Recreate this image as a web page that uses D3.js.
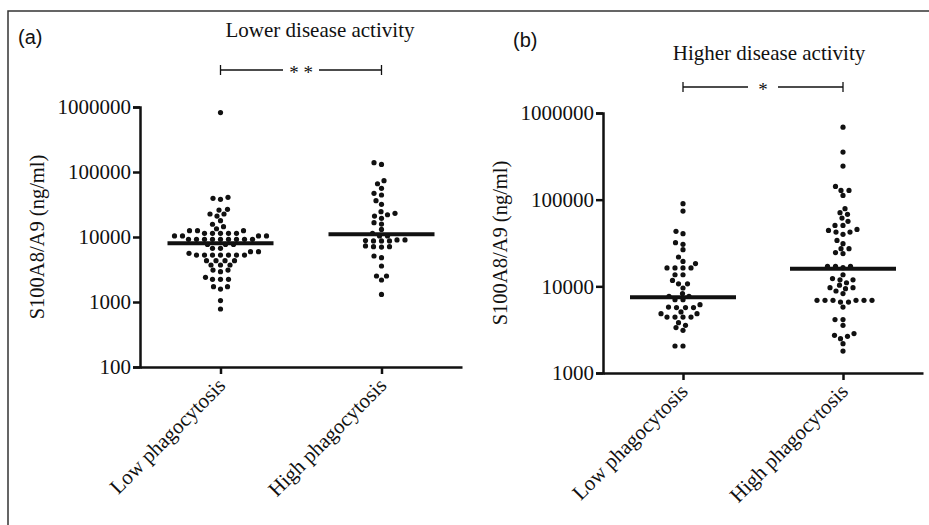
<!DOCTYPE html>
<html>
<head>
<meta charset="utf-8">
<script src="https://cdn.jsdelivr.net/npm/d3@7"></script>
<style>
  body { margin: 0; background: #fff; }
  svg { display: block; }
  .axis path, .axis line { stroke: #111; stroke-width: 2.5px; }
  .serif { font-family: "Liberation Serif", "Times New Roman", serif; fill: #111; }
  .sans { font-family: "Liberation Sans", Arial, sans-serif; fill: #111; }
</style>
</head>
<body>
<div id="chart"></div>
<script>
// data

var categories = ["Low phagocytosis", "High phagocytosis"];

// (a) lower disease activity
var lowerLow = [820000, 40800, 39400, 38000, 26700, 22600, 21000, 22600, 26000, 17800, 15700,
  12500, 12500, 12500, 13400, 14400, 11400, 11400, 11400, 11400, 11400,
  10400, 10400, 10400, 10400, 9200, 9200, 9200, 9200, 9200, 9200, 9200, 9200, 9200,
  7700, 7700, 7700, 6700, 5940, 5600, 5940, 6700,
  5280, 5280, 5280, 5280, 5280, 5280, 5280, 4320, 4320, 4320, 4320,
  3710, 3710, 3710, 3100, 3100, 2930, 2400, 2230, 2230, 2230, 1720, 1580, 1720, 1050, 780];
var lowerHigh = [139000, 131000, 73500, 66000, 56100, 47000, 44300, 36200, 31800,
  24500, 23100, 22000, 21000, 19400, 16600, 15800, 13100, 11400, 10400, 10400,
  9000, 9000, 8800, 8700, 8700, 8700, 7100, 7100, 7300, 7000,
  5100, 4800, 3580, 2510, 2510, 2180, 1310];

// (b) higher disease activity
var higherLow = [89900, 73900, 43100, 40500, 31900, 30500, 26500, 21800, 19400, 18300,
  16300, 16300, 16300, 16300, 13600, 13600, 11700, 10700, 10700, 9570,
  8240, 7670, 7670, 7020, 7020, 6150, 5770, 5680, 5680, 5680, 5060, 4840, 4840,
  4420, 4420, 4420, 4420, 3810, 3550, 3340, 3110, 2050, 2050];
var higherHigh = [687000, 354000, 244000, 142000, 128000, 128000, 112000, 78700, 67700, 70800,
  61400, 56200, 50500, 50500, 45400, 44200, 42300, 42300, 39800, 33900, 31100,
  27200, 27200, 24500, 23800, 17000, 17000, 17000, 16400, 13600, 12300, 11900, 11900,
  11000, 10300, 9660, 9660, 9400, 8830, 8240,
  6900, 6900, 6900, 6900, 6900, 6900, 6590, 6590, 5770, 4130, 4130, 3550,
  2850, 2650, 2720, 2490, 2180, 1790];

var lowerMedians = [8000, 11000];
var higherMedians = [7500, 16000];

var lowerTicks = [100, 1000, 10000, 100000, 1000000];
var higherTicks = [1000, 10000, 100000, 1000000];

var yLabel = "S100A8/A9 (ng/ml)";

//////////////////////////////////////////////
// Layout
//////////////////////////////////////////////
var W = 929, H = 525;
var svg = d3.select("#chart").append("svg").attr("width", W).attr("height", H);

// frame (cropped on right and bottom)
svg.append("path")
  .attr("d", "M929,11H8V525")
  .attr("fill", "none").attr("stroke", "#333").attr("stroke-width", 1.5);

var panels = [
  { letter: "(a)", title: "Lower disease activity", stars: "* *",
    series: [lowerLow, lowerHigh], medians: lowerMedians, ticks: lowerTicks,
    x0: 140, x1: 462, yTop: 107, yBot: 367,
    letterX: 18, letterY: 44, titleX: 320, titleY: 37, brY: 70, labelX: 37 },
  { letter: "(b)", title: "Higher disease activity", stars: "*",
    series: [higherLow, higherHigh], medians: higherMedians, ticks: higherTicks,
    x0: 603, x1: 923, yTop: 113, yBot: 373,
    letterX: 513, letterY: 47, titleX: 769, titleY: 60, brY: 87, labelX: 500 }
];

// simple beeswarm: nearest free horizontal offset for each dot
// (elliptical spacing: wider side by side than above/below)
var SX = 7.6, SY = 5.2;
function swarm(values, yScale) {
  var pts = values.map(function(v) { return { v: v, y: yScale(v), dx: 0 }; })
    .sort(function(a, b) { return b.y - a.y; });
  var placed = [];
  pts.forEach(function(p) {
    for (var k = 0; k < 600; k++) {
      var off = (k % 2 === 0 ? 1 : -1) * Math.ceil(k / 2) * 0.5;
      var ok = placed.every(function(q) {
        var dy = (q.y - p.y) / SY, dx = (q.dx - off) / SX;
        return dx * dx + dy * dy >= 1;
      });
      if (ok) { p.dx = off; break; }
    }
    placed.push(p);
  });
  return pts;
}

panels.forEach(function(P) {
  var y = d3.scaleLog()
    .domain([P.ticks[0], P.ticks[P.ticks.length - 1]])
    .range([P.yBot, P.yTop]);
  var x = d3.scalePoint().domain(categories).range([P.x0, P.x1]).padding(0.5);

  var g = svg.append("g");

  // axes
  var ya = g.append("g").attr("class", "axis")
    .attr("transform", "translate(" + P.x0 + ",0)")
    .call(d3.axisLeft(y).tickValues(P.ticks).tickFormat(d3.format("d"))
      .tickSize(7).tickPadding(2));
  ya.selectAll("text")
    .attr("class", "serif")
    .style("font-size", "21px");

  var xa = g.append("g").attr("class", "axis")
    .attr("transform", "translate(0," + P.yBot + ")")
    .call(d3.axisBottom(x).tickSize(7).tickSizeOuter(0));
  xa.selectAll("text")
    .attr("class", "serif")
    .attr("text-anchor", "end")
    .attr("x", -10).attr("y", 18).attr("dy", 0)
    .attr("transform", "rotate(-45)")
    .style("font-size", "21px");

  // dots
  P.series.forEach(function(vals, i) {
    var cx = x(categories[i]);
    g.append("g").selectAll("circle")
      .data(swarm(vals, y))
      .join("circle")
      .attr("cx", function(d) { return cx + d.dx; })
      .attr("cy", function(d) { return d.y; })
      .attr("r", 2.6)
      .attr("fill", "#111");
  });

  // medians
  g.append("g").selectAll("line")
    .data(P.medians)
    .join("line")
    .attr("x1", function(d, i) { return x(categories[i]) - 53; })
    .attr("x2", function(d, i) { return x(categories[i]) + 53; })
    .attr("y1", function(d) { return y(d); })
    .attr("y2", function(d) { return y(d); })
    .attr("stroke", "#111").attr("stroke-width", 4);

  // y label
  g.append("text").attr("class", "serif")
    .attr("transform", "translate(" + P.labelX + "," + ((P.yTop + P.yBot) / 2) + ") rotate(-90)")
    .attr("text-anchor", "middle").attr("dy", "0.35em")
    .style("font-size", "20.5px")
    .text(yLabel);

  // panel letter and title
  g.append("text").attr("class", "sans")
    .attr("x", P.letterX).attr("y", P.letterY)
    .style("font-size", "20px").text(P.letter);
  g.append("text").attr("class", "serif")
    .attr("x", P.titleX).attr("y", P.titleY)
    .attr("text-anchor", "middle")
    .style("font-size", "21px").text(P.title);

  // significance bracket
  var bx1 = x(categories[0]), bx2 = x(categories[1]), bm = (bx1 + bx2) / 2;
  var gap = P.stars.length > 1 ? 18 : 15;
  var br = g.append("g").attr("stroke", "#111").attr("stroke-width", 1.3);
  br.append("line").attr("x1", bx1).attr("x2", bm - gap).attr("y1", P.brY).attr("y2", P.brY);
  br.append("line").attr("x1", bm + gap).attr("x2", bx2).attr("y1", P.brY).attr("y2", P.brY);
  br.append("line").attr("x1", bx1).attr("x2", bx1).attr("y1", P.brY - 5).attr("y2", P.brY + 5);
  br.append("line").attr("x1", bx2).attr("x2", bx2).attr("y1", P.brY - 5).attr("y2", P.brY + 5);
  g.append("text").attr("class", "serif")
    .attr("x", bm).attr("y", P.brY + 9)
    .attr("text-anchor", "middle")
    .style("font-size", "19px").text(P.stars);
});
</script>
</body>
</html>
